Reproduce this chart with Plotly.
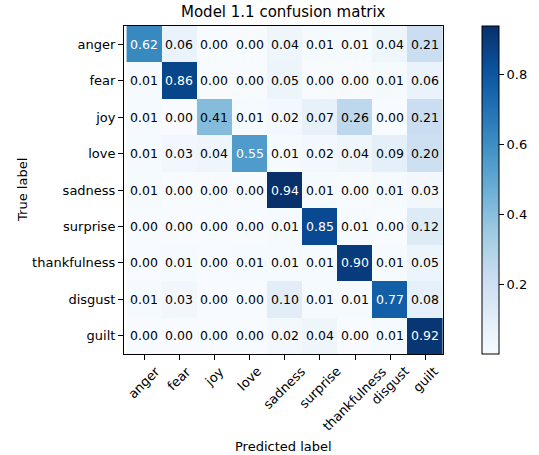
import plotly.graph_objects as go

labels = ["anger", "fear", "joy", "love", "sadness", "surprise", "thankfulness", "disgust", "guilt"]
matrix = [
    [0.62, 0.06, 0.00, 0.00, 0.04, 0.01, 0.01, 0.04, 0.21],
    [0.01, 0.86, 0.00, 0.00, 0.05, 0.00, 0.00, 0.01, 0.06],
    [0.01, 0.00, 0.41, 0.01, 0.02, 0.07, 0.26, 0.00, 0.21],
    [0.01, 0.03, 0.04, 0.55, 0.01, 0.02, 0.04, 0.09, 0.20],
    [0.01, 0.00, 0.00, 0.00, 0.94, 0.01, 0.00, 0.01, 0.03],
    [0.00, 0.00, 0.00, 0.00, 0.01, 0.85, 0.01, 0.00, 0.12],
    [0.00, 0.01, 0.00, 0.01, 0.01, 0.01, 0.90, 0.01, 0.05],
    [0.01, 0.03, 0.00, 0.00, 0.10, 0.01, 0.01, 0.77, 0.08],
    [0.00, 0.00, 0.00, 0.00, 0.02, 0.04, 0.00, 0.01, 0.92],
]
colorbar_ticks = [0.2, 0.4, 0.6, 0.8]

blues = [
    [0.0, "#f7fbff"], [0.125, "#deebf7"], [0.25, "#c6dbef"], [0.375, "#9ecae1"],
    [0.5, "#6baed6"], [0.625, "#4292c6"], [0.75, "#2171b5"], [0.875, "#08519c"],
    [1.0, "#08306b"],
]

FONT = "DejaVu Sans"
zmax = max(max(r) for r in matrix)
zmin = 0.0
thresh = zmax / 2

fig = go.Figure(go.Heatmap(
    z=matrix, x=labels, y=labels, colorscale=blues, zmin=zmin, zmax=zmax,
    showscale=True, hoverinfo="skip",
    colorbar=dict(
        x=1.122, xanchor="left", y=0.5, yanchor="middle", len=1.0, lenmode="fraction",
        thickness=17, outlinewidth=1, outlinecolor="black",
        tickvals=colorbar_ticks, ticktext=[f"{t:.1f}" for t in colorbar_ticks],
        ticks="outside", ticklen=5, tickcolor="black",
        tickfont=dict(family=FONT, size=13, color="black"),
        xpad=0, ypad=0,
    ),
))

annotations = []
for i, row in enumerate(matrix):
    for j, v in enumerate(row):
        annotations.append(dict(
            x=labels[j], y=labels[i], xref="x", yref="y", text=f"{v:.2f}",
            showarrow=False,
            font=dict(family=FONT, size=12.5, color="white" if v > thresh else "black"),
        ))
# rotated x tick labels, centred on their ticks (matplotlib rotation=45 style)
for lab in labels:
    annotations.append(dict(
        x=lab, y=-0.026, xref="x", yref="paper", xanchor="center", yanchor="top",
        text=lab, textangle=-45, showarrow=False, borderpad=0,
        font=dict(family=FONT, size=13, color="black"),
    ))
annotations.append(dict(
    x=0.5, y=-0.253, xref="paper", yref="paper", xanchor="center", yanchor="top",
    text="Predicted label", showarrow=False, font=dict(family=FONT, size=13, color="black"),
))
annotations.append(dict(
    x=-0.32, y=0.5, xref="paper", yref="paper", xanchor="center", yanchor="middle",
    text="True label", textangle=-90, showarrow=False,
    font=dict(family=FONT, size=13, color="black"),
))

fig.update_layout(
    width=539, height=455,
    margin=dict(l=124, r=96, t=26, b=101, autoexpand=False),
    paper_bgcolor="white", plot_bgcolor="white",
    title=dict(text="Model 1.1 confusion matrix", x=0.5255, xanchor="center",
               y=1 - 12 / 455, yanchor="middle",
               font=dict(family=FONT, size=15, color="black")),
    annotations=annotations,
    xaxis=dict(
        ticks="outside", ticklen=5, tickcolor="black", automargin=False,
        showticklabels=False,
        showline=True, linecolor="black", linewidth=1, mirror=True, showgrid=False,
    ),
    yaxis=dict(
        autorange="reversed", ticks="outside", ticklen=5, tickcolor="black", automargin=False,
        showline=True, linecolor="black", linewidth=1, mirror=True,
        tickfont=dict(family=FONT, size=13, color="black"), showgrid=False,
    ),
)

fig.write_html("out.html", post_script="document.body.style.margin='0px';",
               config={"displayModeBar": False})
